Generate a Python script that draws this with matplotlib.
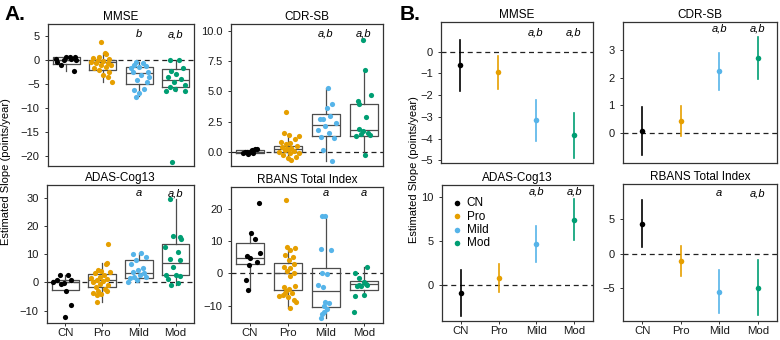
import matplotlib.pyplot as plt
import numpy as np

plt.rcParams['font.family'] = ['Liberation Sans', 'DejaVu Sans']

groups = ['CN', 'Pro', 'Mild', 'Mod']
colors = ['#000000', '#E69F00', '#56B4E9', '#009E73']

# ---- panel A: individual slopes (values, jitter offsets) ----
mmse_pts = [
    [0.7, 0.7, 0.55, 0.3, 0.0, 0.0, 0.15, -1.05, -2.3, -0.35],
    [3.8, 1.5, 1.2, 0.7, 0.5, 0.3, 0.0, -0.1, -0.3, -0.5, -0.7, -1.0, -1.0, -1.4, -1.7, -2.1, -2.4, -3.1, -3.6, -4.6],
    [-0.35, -0.7, -1.0, -1.2, -1.4, -1.7, -2.4, -3.1, -3.6, -4.2, -6.2, -5.9, -6.8, -7.6, -4.5, -2.4],
    [0.0, 0.0, -1.7, -2.3, -2.8, -3.5, -4.0, -4.5, -5.2, -5.6, -5.9, -6.4, -6.4, -21.1],
]
mmse_jit = [
    [0.11, 0.24, -0.01, -0.28, -0.07, 0.27, 0.13, -0.15, 0.2, -0.24],
    [-0.06, 0.05, 0.09, -0.09, -0.28, 0.18, -0.14, 0.0, -0.32, 0.14, -0.18, -0.05, 0.23, 0.09, -0.23, -0.09, 0.18, 0.0, 0.14, 0.26],
    [-0.09, 0.09, -0.14, 0.18, 0.0, -0.23, 0.23, 0.05, 0.28, -0.05, -0.14, 0.14, 0.0, -0.09, 0.2, -0.17],
    [-0.17, 0.1, 0.19, -0.13, 0.01, -0.22, 0.15, -0.06, 0.24, -0.17, -0.01, -0.27, 0.24, -0.1],
]
cdr_pts = [
    [-0.1, 0.0, 0.03, 0.16, 0.25, 0.3, 0.05, -0.16, -0.02],
    [3.35, 1.55, 1.4, 1.3, 1.05, 0.85, 0.77, 0.66, 0.55, 0.44, 0.38, 0.25, 0.16, 0.11, 0.03, -0.03, -0.1, -0.25, -0.44, -0.6, -0.38, 0.3],
    [5.3, 3.95, 3.68, 2.97, 2.7, 2.77, 2.42, 2.14, 1.81, 1.62, 1.2, 1.26, 0.16, -0.7],
    [9.23, 6.8, 4.7, 4.2, 3.95, 2.86, 1.95, 1.76, 1.6, 1.48, 1.4, 1.32, -0.19],
]
cdr_jit = [
    [-0.18, -0.09, 0.0, 0.06, 0.14, 0.18, -0.14, -0.05, 0.09],
    [-0.06, -0.11, 0.02, 0.28, 0.18, -0.18, 0.05, -0.05, 0.23, -0.16, 0.09, 0.0, -0.09, 0.16, -0.23, 0.28, 0.05, -0.14, 0.0, 0.09, 0.21, -0.05],
    [0.06, 0.16, 0.02, 0.11, -0.17, -0.07, 0.27, -0.03, -0.21, 0.08, 0.2, -0.12, -0.07, 0.16],
    [-0.03, 0.02, 0.18, -0.17, -0.12, 0.06, -0.14, -0.03, 0.11, -0.09, 0.16, -0.21, 0.02],
]
adas_pts = [
    [2.7, 2.7, 0.9, 0.7, -0.2, 0.1, -0.6, -3.1, -8.0, -12.2],
    [13.8, 7.0, 6.4, 4.3, 4.1, 3.6, 3.3, 2.7, 2.0, 1.5, 1.3, 0.9, 0.6, 0.1, -0.6, -1.0, -1.7, -2.2, -2.9, -3.7, -4.1, -4.3, -3.1, -6.9],
    [10.5, 10.2, 9.1, 7.9, 6.4, 5.2, 4.4, 3.8, 3.3, 2.7, 2.1, 1.7, 1.9, 0.0, 0.9],
    [29.7, 16.4, 16.2, 15.5, 12.6, 10.8, 8.3, 7.9, 5.6, 2.7, 2.7, 2.4, 1.2, -0.2, -1.0],
]
adas_jit = [
    [-0.15, 0.07, -0.24, 0.16, -0.05, -0.33, -0.11, 0.03, 0.14, -0.02],
    [0.16, 0.14, 0.1, -0.11, -0.02, 0.21, -0.2, 0.05, -0.06, -0.29, 0.12, -0.15, 0.03, -0.24, -0.06, 0.16, -0.18, 0.07, -0.11, -0.24, -0.02, -0.15, 0.12, -0.15],
    [0.06, -0.16, 0.2, -0.07, -0.21, 0.11, -0.03, -0.16, 0.15, 0.02, -0.12, -0.25, 0.2, -0.3, -0.05],
    [-0.16, -0.07, 0.11, 0.14, -0.3, 0.06, -0.16, 0.11, -0.07, -0.27, 0.0, 0.11, -0.21, 0.06, -0.12],
]
rbans_pts = [
    [21.8, 12.5, 10.5, 6.4, 5.3, 4.6, 3.4, 2.7, -2.0, -5.2],
    [22.8, 8.1, 7.8, 7.1, 5.6, 4.9, 4.1, 3.0, 2.0, 1.5, 0.7, 0.0, -1.0, -4.1, -4.4, -4.8, -5.4, -6.1, -6.1, -6.8, -7.4, -8.4, -8.8, -10.7, -7.1],
    [17.8, 17.8, 7.4, 7.1, 0.0, -0.2, -3.6, -4.4, -8.8, -9.3, -10.2, -11.2, -11.9, -12.5, -13.9],
    [1.8, 0.0, -1.5, -2.8, -3.6, -3.4, -3.9, -3.5, -7.1, -6.6, -11.9, -4.1],
]
rbans_jit = [
    [0.23, 0.03, 0.14, 0.25, -0.08, -0.01, 0.18, -0.03, -0.1, -0.06],
    [-0.05, -0.03, 0.19, 0.06, -0.07, 0.13, 0.02, 0.17, -0.1, 0.06, -0.03, 0.15, 0.06, 0.19, -0.11, 0.02, -0.05, -0.09, 0.11, -0.13, 0.0, 0.15, 0.22, 0.06, -0.25],
    [-0.11, -0.02, -0.12, 0.13, -0.11, 0.03, -0.21, -0.08, -0.02, 0.07, -0.06, 0.03, -0.04, -0.11, -0.13],
    [0.08, -0.23, -0.14, -0.01, -0.14, 0.04, -0.08, 0.08, -0.23, -0.01, -0.27, -0.18],
]

# box stats per group: (whisker low, q1, median, q3, whisker high)
mmse_box = [(-2.3, -0.9, 0.0, 0.55, 0.7), (-4.6, -2.15, -0.4, 0.0, 1.5),
            (-7.4, -5.0, -2.6, -1.5, -0.3), (-6.5, -5.5, -4.1, -1.9, 0.0)]
cdr_box = [(-0.15, -0.05, 0.05, 0.2, 0.3), (-0.6, 0.0, 0.25, 0.55, 1.5),
           (-0.7, 1.37, 2.28, 3.16, 5.3), (-0.2, 1.37, 1.81, 3.98, 6.8)]
adas_box = [(-3.1, -2.67, 0.0, 0.93, 2.7), (-6.9, -1.74, 0.7, 3.14, 7.0),
            (0.0, 1.74, 3.5, 8.0, 10.5), (-1.0, 2.56, 7.0, 13.7, 29.7)]
rbans_box = [(-5.2, 2.74, 4.8, 9.4, 12.5), (-10.7, -5.18, 0.0, 3.25, 8.1),
             (-13.9, -10.36, -5.6, 1.73, 17.8), (-7.1, -5.3, -3.35, -2.3, 1.8)]

# ---- panel B: model estimates with intervals ----
mmse_est = [-0.62, -0.95, -3.15, -3.83]
mmse_lo = [-1.8, -1.7, -4.1, -4.87]
mmse_hi = [0.55, -0.2, -2.2, -2.8]
cdr_est = [0.08, 0.42, 2.22, 2.72]
cdr_lo = [-0.78, -0.12, 1.55, 1.95]
cdr_hi = [0.95, 0.98, 2.9, 3.46]
adas_est = [-0.95, 0.75, 4.65, 7.4]
adas_lo = [-3.6, -0.9, 2.6, 5.1]
adas_hi = [1.7, 2.4, 6.7, 9.8]
rbans_est = [4.3, -1.05, -5.5, -4.95]
rbans_lo = [0.9, -3.3, -8.5, -8.9]
rbans_hi = [7.7, 1.1, -2.4, -0.95]

W, H = 780, 340
fig = plt.figure(figsize=(7.8, 3.4), dpi=100)


def make_ax(l, r, t, b):
    return fig.add_axes([l / W, 1 - b / H, (r - l) / W, (b - t) / H])


def style(ax, title, yticks, ylim, ylabels=None, bottom=True, sig=None, sig_y=None):
    ax.set_xlim(0.5, 4.5)
    ax.set_ylim(*ylim)
    ax.set_yticks(yticks)
    if ylabels:
        ax.set_yticklabels(ylabels)
    ax.set_xticks([1, 2, 3, 4])
    for s in ax.spines.values():
        s.set_color('#333333')
        s.set_linewidth(0.9)
    ax.tick_params(colors='#333333', labelcolor='#1a1a1a', labelsize=8, length=2.5, width=0.7)
    if bottom:
        ax.set_xticklabels(groups)
        ax.tick_params(axis='x', pad=0.8, labelsize=8.2)
    else:
        ax.set_xticklabels([])
        ax.tick_params(axis='x', length=0)
    ax.set_title(title, fontsize=8.5, pad=3)
    ax.axhline(0, color='#222222', lw=0.9, ls=(0, (4, 3)), zorder=1)
    if sig:
        for i, s in enumerate(sig):
            if s:
                ax.text(i + 1, sig_y, s, fontsize=8, style='italic', ha='center', va='center')


def box_panel(ax, pts, jit, box):
    stats = [dict(whislo=b[0], q1=b[1], med=b[2], q3=b[3], whishi=b[4], fliers=[]) for b in box]
    ax.bxp(stats, positions=[1, 2, 3, 4], widths=0.75, showcaps=False, showfliers=False,
           boxprops=dict(color='#4d4d4d', lw=0.9),
           whiskerprops=dict(color='#4d4d4d', lw=0.9),
           medianprops=dict(color='#4d4d4d', lw=0.9), manage_ticks=False)
    for i in range(4):
        x = np.array(jit[i]) + i + 1
        ax.scatter(x, pts[i], s=14, color=colors[i], zorder=3, linewidths=0)


def est_panel(ax, est, lo, hi):
    for i in range(4):
        ax.plot([i + 1, i + 1], [lo[i], hi[i]], color=colors[i], lw=1.2, zorder=2)
        ax.scatter(i + 1, est[i], s=16, color=colors[i], zorder=3, linewidths=0, label=groups[i])


# panel A
ax = make_ax(48, 194, 24, 166)
box_panel(ax, mmse_pts, mmse_jit, mmse_box)
style(ax, 'MMSE', [-20, -15, -10, -5, 0, 5], (-22, 7.5), bottom=False,
      sig=['', '', 'b', 'a,b'], sig_y=5.4)

ax = make_ax(231, 383, 24, 166)
box_panel(ax, cdr_pts, cdr_jit, cdr_box)
style(ax, 'CDR-SB', [0, 2.5, 5, 7.5, 10], (-1.13, 10.55), ['0.0', '2.5', '5.0', '7.5', '10.0'],
      bottom=False, sig=['', '', 'a,b', 'a,b'], sig_y=9.8)

ax = make_ax(47, 194, 185, 323)
box_panel(ax, adas_pts, adas_jit, adas_box)
style(ax, 'ADAS-Cog13', [-10, 0, 10, 20, 30], (-14.4, 34.6), sig=['', '', 'a', 'a,b'], sig_y=31.7)

ax = make_ax(231, 383, 187, 323)
box_panel(ax, rbans_pts, rbans_jit, rbans_box)
style(ax, 'RBANS Total Index', [-10, 0, 10, 20], (-15.4, 26.7), sig=['', '', 'a', 'a'], sig_y=24.9)

# panel B
ax = make_ax(441, 593, 22, 163)
est_panel(ax, mmse_est, mmse_lo, mmse_hi)
style(ax, 'MMSE', [-5, -4, -3, -2, -1, 0], (-5.12, 1.37), bottom=False,
      sig=['', '', 'a,b', 'a,b'], sig_y=0.88)

ax = make_ax(623, 777, 22, 163)
est_panel(ax, cdr_est, cdr_lo, cdr_hi)
style(ax, 'CDR-SB', [0, 1, 2, 3], (-1.08, 4.0), bottom=False,
      sig=['', '', 'a,b', 'a,b'], sig_y=3.75)

ax = make_ax(442, 593, 185, 321)
est_panel(ax, adas_est, adas_lo, adas_hi)
style(ax, 'ADAS-Cog13', [0, 5, 10], (-4.17, 11.4), sig=['', '', 'a,b', 'a,b'], sig_y=10.6)
ax.legend(loc='upper left', bbox_to_anchor=(0.0, 0.97), frameon=False, fontsize=8.5,
          handletextpad=0.2, labelspacing=0.1, handlelength=1.2, borderaxespad=0.3)

ax = make_ax(623, 777, 184, 321)
est_panel(ax, rbans_est, rbans_lo, rbans_hi)
style(ax, 'RBANS Total Index', [-5, 0, 5], (-9.7, 10.0), sig=['', '', 'a', 'a,b'], sig_y=8.7)

fig.text(6 / W, 1 - 172 / H, 'Estimated Slope (points/year)', rotation=90,
         ha='center', va='center', fontsize=8)
fig.text(414 / W, 1 - 170 / H, 'Estimated Slope (points/year)', rotation=90,
         ha='center', va='center', fontsize=8)
fig.text(4 / W, 1 - 15 / H, 'A.', fontsize=15, fontweight='bold', va='center')
fig.text(400 / W, 1 - 15 / H, 'B.', fontsize=15, fontweight='bold', va='center')

fig.savefig('out.png', dpi=100)
